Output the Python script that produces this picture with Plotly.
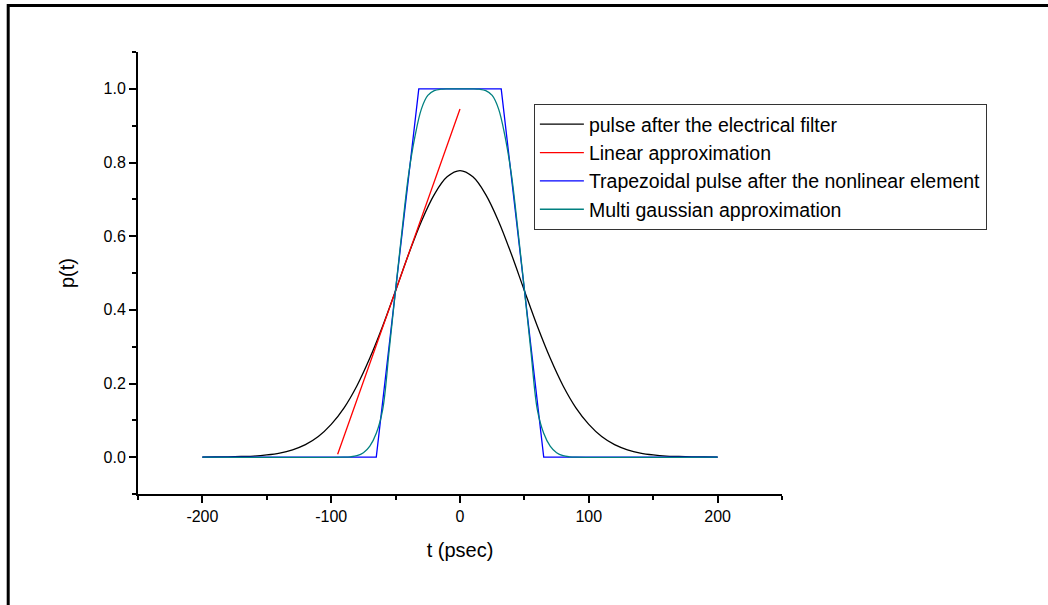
import plotly.graph_objects as go

# ---- data ----
filter_t = [-200, -190, -180, -170, -160, -150, -140, -130, -120, -110, -100, -90, -80, -70, -60, -50, -40, -30, -20, -10, 0,
            10, 20, 30, 40, 50, 60, 70, 80, 90, 100, 110, 120, 130, 140, 150, 160, 170, 180, 190, 200]
filter_p = [0.0, 0.0005, 0.001, 0.002, 0.003, 0.006, 0.011, 0.02, 0.034, 0.056, 0.089, 0.134, 0.194, 0.269, 0.356, 0.452, 0.55, 0.64, 0.713, 0.761, 0.778,
            0.761, 0.713, 0.64, 0.55, 0.452, 0.356, 0.269, 0.194, 0.134, 0.089, 0.056, 0.034, 0.02, 0.011, 0.006, 0.003, 0.002, 0.001, 0.0005, 0.0]

linear_t = [-95, 0]
linear_p = [0.008, 0.945]

trap_t = [-200, -65, -32, 32, 65, 200]
trap_p = [0.0, 0.0, 1.0, 1.0, 0.0, 0.0]

multi_t = [-200, -90, -85, -80, -75, -70, -65, -60, -55, -50, -45, -40, -35, -30, -25, -20, -15, -10, 0,
           10, 15, 20, 25, 30, 35, 40, 45, 50, 55, 60, 65, 70, 75, 80, 85, 90, 200]
multi_p = [0.0, 0.0, 0.001, 0.004, 0.012, 0.03, 0.065, 0.13, 0.29, 0.455, 0.615, 0.765, 0.87, 0.945, 0.982, 0.995, 0.999, 1.0, 1.0,
           1.0, 0.999, 0.995, 0.982, 0.945, 0.87, 0.765, 0.615, 0.455, 0.29, 0.13, 0.065, 0.03, 0.012, 0.004, 0.001, 0.0, 0.0]

names = ["pulse after the electrical filter", "Linear approximation",
         "Trapezoidal pulse after the nonlinear element", "Multi gaussian approximation"]
colors = ["#000000", "#FF0000", "#0000FF", "#008080"]

x_ticks = [-200, -100, 0, 100, 200]
x_ticktext = ["-200", "-100", "0", "100", "200"]
y_ticks = [0.0, 0.2, 0.4, 0.6, 0.8, 1.0]
y_ticktext = ["0.0", "0.2", "0.4", "0.6", "0.8", "1.0"]

FONT = "Liberation Sans, Arial, sans-serif"

fig = go.Figure()
series = [(filter_t, filter_p, "spline"), (linear_t, linear_p, "linear"),
          (trap_t, trap_p, "linear"), (multi_t, multi_p, "spline")]
for i, (tx, py, shp) in enumerate(series):
    fig.add_trace(go.Scatter(x=tx, y=py, mode="lines", name=names[i],
                             line=dict(color=colors[i], width=1.3, shape=shp),
                             legendgroup=str(i)))

W, H = 1048, 605
L, R, T, B = 137.5, 782.5, 52, 494

fig.update_layout(
    width=W, height=H,
    margin=dict(l=L, r=W - R, t=T, b=H - B, pad=0),
    paper_bgcolor="white", plot_bgcolor="white",
    font=dict(family=FONT, color="black", size=16),
    showlegend=True,
    legend=dict(x=(534 - L) / (R - L), y=(B - 104) / (B - T), xanchor="left", yanchor="top",
                bordercolor="#333333", borderwidth=1, bgcolor="white",
                font=dict(family=FONT, size=19.5, color="black"),
                traceorder="grouped", tracegroupgap=0, itemwidth=44),
    xaxis=dict(range=[-250, 250], tickvals=x_ticks, ticktext=x_ticktext, showgrid=False, zeroline=False,
               showline=True, linecolor="black", linewidth=2,
               ticks="outside", ticklen=7, tickwidth=2, tickcolor="black",
               minor=dict(dtick=50, tick0=-250, ticks="outside", ticklen=4, tickwidth=2, tickcolor="black"),
               tickfont=dict(size=16),
               title=dict(text="t (psec)", font=dict(size=20), standoff=19)),
    yaxis=dict(range=[-0.1, 1.1], tickvals=y_ticks, ticktext=y_ticktext, showgrid=False, zeroline=False,
               showline=True, linecolor="black", linewidth=2,
               ticks="outside", ticklen=7, tickwidth=2, tickcolor="black",
               minor=dict(dtick=0.1, tick0=-0.1, ticks="outside", ticklen=4, tickwidth=2, tickcolor="black"),
               tickfont=dict(size=16),
               title=dict(text="p(t)", font=dict(size=20), standoff=24)),
)

# outer frame (left and top edges visible)
fig.add_shape(type="rect", xref="paper", yref="paper",
              x0=(7.5 - L) / (R - L), x1=1.6,
              y0=-0.6, y1=(B - 5.5) / (B - T),
              line=dict(color="black", width=3), fillcolor="rgba(0,0,0,0)", layer="above")

fig.write_html("out.html")
